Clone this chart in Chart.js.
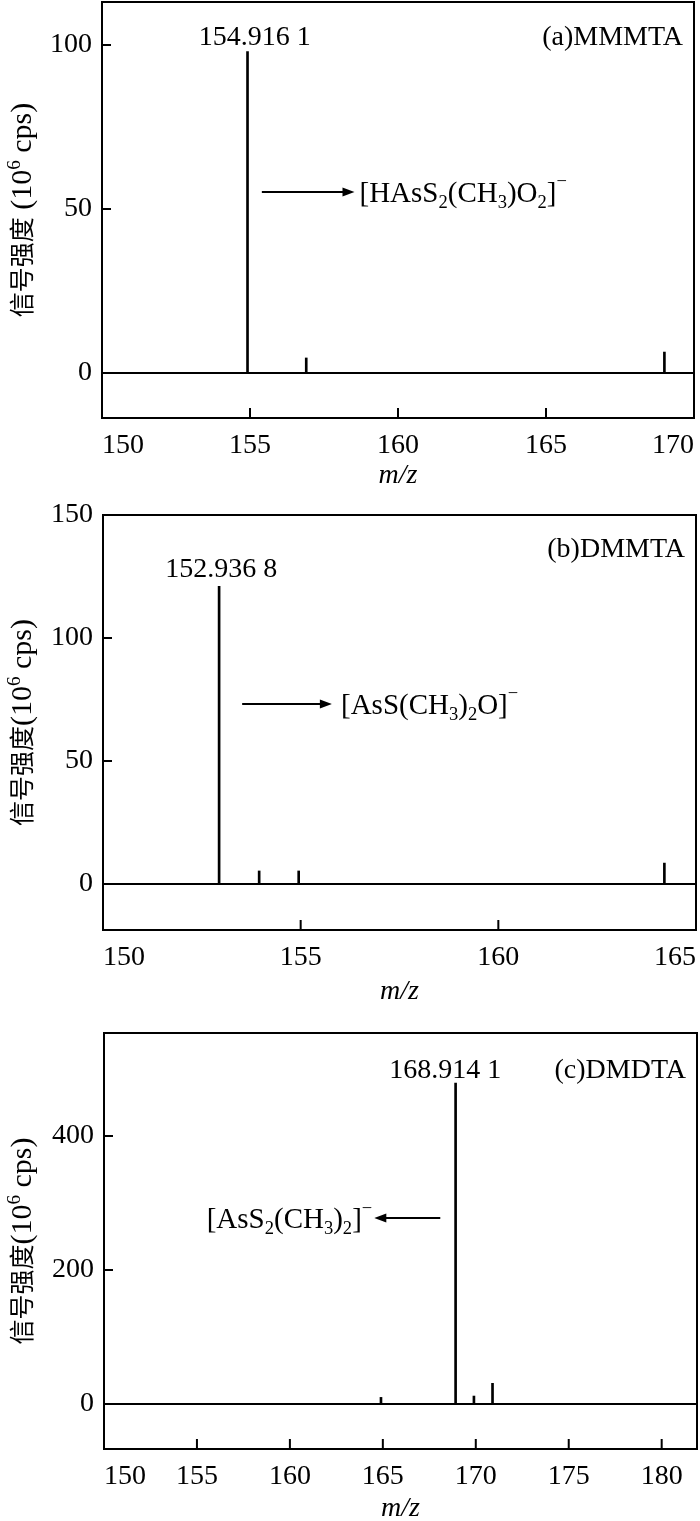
<!DOCTYPE html>
<html>
<head>
<meta charset="utf-8">
<title>MS spectra</title>
<script src="https://cdn.jsdelivr.net/npm/chart.js"></script>
<style>
  body { margin: 0; background: #fff; }
  canvas { position: absolute; left: 0; }
</style>
</head>
<body>
<canvas id="chartA" width="700" height="500" style="top:0"></canvas>
<canvas id="chartB" width="700" height="510" style="top:500px"></canvas>
<canvas id="chartC" width="700" height="511" style="top:1010px"></canvas>

<script>
// (a) MMMTA
const mzA = [154.9161, 156.9, 169.0];
const intA = [98, 4.6, 6.4];
const xTicksA = [150, 155, 160, 165, 170];
const yTicksA = [0, 50, 100];

// (b) DMMTA
const mzB = [152.9368, 153.95, 154.95, 164.2];
const intB = [121, 5.3, 5.3, 8.5];
const xTicksB = [150, 155, 160, 165];
const yTicksB = [0, 50, 100, 150];

// (c) DMDTA
const mzC = [164.9, 168.9141, 169.9, 170.9];
const intC = [10, 479, 12, 31];
const xTicksC = [150, 155, 160, 165, 170, 175, 180];
const yTicksC = [0, 200, 400];

const FONT = '"Liberation Serif", "Times New Roman", serif';
const CJK = '"Noto Sans CJK SC", sans-serif';

// draw text made of pieces: [text, 'sub'|'sup'|'supm'|'', 'cjk'?]
function drawRich(ctx, segs, x, y, size, align) {
  const parts = segs.map(([t, k, fam]) => {
    let font;
    if (fam === 'cjk') font = Math.round(size * 0.82) + 'px ' + CJK;
    else font = (k ? size * 0.64 : size) + 'px ' + FONT;
    ctx.font = font;
    return { t, k, font, w: ctx.measureText(t).width };
  });
  const total = parts.reduce((s, p) => s + p.w, 0);
  let cx = align === 'right' ? x - total : align === 'center' ? x - total / 2 : x;
  ctx.textAlign = 'left';
  ctx.textBaseline = 'alphabetic';
  parts.forEach(p => {
    let dy = 0;
    if (p.k === 'sub') dy = size * 0.2;
    if (p.k === 'sup') dy = -size * 0.36;
    if (p.k === 'supm') dy = -size * 0.5;
    ctx.font = p.font;
    ctx.fillText(p.t, cx, y + dy);
    cx += p.w;
  });
}

function arrow(ctx, x1, x2, y) {
  const d = Math.sign(x2 - x1);
  ctx.lineWidth = 2;
  ctx.beginPath();
  ctx.moveTo(x1, y);
  ctx.lineTo(x2 - d * 8, y);
  ctx.stroke();
  ctx.beginPath();
  ctx.moveTo(x2, y);
  ctx.lineTo(x2 - d * 12, y - 4.5);
  ctx.lineTo(x2 - d * 12, y + 4.5);
  ctx.closePath();
  ctx.fill();
}

function noPad(s) {
  s.paddingTop = 0;
  s.paddingBottom = 0;
  s.paddingLeft = 0;
  s.paddingRight = 0;
}

function framePlugin(cfg) {
  return {
    id: 'frame',
    afterDatasetsDraw(chart) {
      const { ctx, chartArea: a, scales: { x, y } } = chart;
      ctx.save();
      ctx.strokeStyle = '#000';
      ctx.fillStyle = '#000';
      ctx.lineWidth = 2;

      // zero line
      const y0 = y.getPixelForValue(0);
      ctx.beginPath();
      ctx.moveTo(a.left, y0);
      ctx.lineTo(a.right, y0);
      ctx.stroke();

      // box
      ctx.strokeRect(a.left, a.top, a.right - a.left, a.bottom - a.top);

      // inward ticks
      ctx.beginPath();
      cfg.xTicks.forEach(v => {
        if (v <= cfg.xMin || v >= cfg.xMax) return;
        const px = x.getPixelForValue(v);
        ctx.moveTo(px, a.bottom);
        ctx.lineTo(px, a.bottom - 10);
      });
      cfg.yTicks.forEach(v => {
        if (v >= cfg.yMax) return;
        const py = y.getPixelForValue(v);
        ctx.moveTo(a.left, py);
        ctx.lineTo(a.left + 9, py);
      });
      ctx.stroke();

      // peak label
      ctx.font = '28px ' + FONT;
      ctx.textAlign = 'center';
      ctx.textBaseline = 'alphabetic';
      ctx.fillText(cfg.peakLabel, x.getPixelForValue(cfg.peakLabelX), y.getPixelForValue(cfg.peakLabelY));

      // panel tag
      ctx.textAlign = 'right';
      ctx.fillText(cfg.tag, a.right - 11, a.top + cfg.tagDy);

      // arrow + formula
      const ay = y.getPixelForValue(cfg.arrowY);
      const ax1 = x.getPixelForValue(cfg.arrowFrom);
      const ax2 = x.getPixelForValue(cfg.arrowTo);
      arrow(ctx, ax1, ax2, ay);
      drawRich(ctx, cfg.formula, x.getPixelForValue(cfg.formulaX), ay + 10, 29, cfg.formulaAlign);

      // y title, rotated
      ctx.translate(31, (a.top + a.bottom) / 2);
      ctx.rotate(-Math.PI / 2);
      drawRich(ctx, cfg.yTitle, 0, 0, 30, 'center');
      ctx.restore();
    }
  };
}

function makePanel(id, cfg) {
  const points = cfg.mz.map((m, i) => ({ x: m, y: cfg.val[i] }));
  new Chart(document.getElementById(id), {
    type: 'bar',
    data: {
      datasets: [{
        data: points,
        backgroundColor: '#000',
        borderWidth: 0,
        barThickness: 2
      }]
    },
    options: {
      responsive: false,
      animation: false,
      layout: { padding: { top: cfg.padTop, right: cfg.padRight, left: 0, bottom: 0 } },
      plugins: { legend: { display: false }, tooltip: { enabled: false } },
      scales: {
        x: {
          type: 'linear',
          min: cfg.xMin,
          max: cfg.xMax,
          offset: false,
          grid: { display: false, drawTicks: false },
          border: { display: false },
          afterBuildTicks: s => {
            const t = cfg.xTicks.map(v => ({ value: v }));
            if (cfg.xTicks[cfg.xTicks.length - 1] < cfg.xMax) t.push({ value: cfg.xMax });
            s.ticks = t;
          },
          afterFit: s => { s.height = cfg.xH; noPad(s); },
          ticks: {
            autoSkip: false,
            maxRotation: 0,
            minRotation: 0,
            align: 'inner',
            padding: 11,
            color: '#000',
            font: { family: FONT, size: 28, lineHeight: 1.2 },
            callback: v => cfg.xTicks.includes(v) ? String(v) : ''
          },
          title: {
            display: true,
            text: 'm/z',
            color: '#000',
            font: { family: FONT, size: 28, style: 'italic', lineHeight: 0.8 },
            padding: { top: 0, bottom: cfg.titlePad }
          }
        },
        y: {
          min: cfg.yMin,
          max: cfg.yMax,
          grid: { display: false, drawTicks: false },
          border: { display: false },
          afterBuildTicks: s => { s.ticks = cfg.yTicks.map(v => ({ value: v })); },
          afterFit: s => { s.width = cfg.yW; noPad(s); },
          ticks: {
            padding: 10,
            color: '#000',
            font: { family: FONT, size: 28, lineHeight: 1.2 }
          }
        }
      }
    },
    plugins: [framePlugin(cfg)]
  });
}

makePanel('chartA', {
  mz: mzA, val: intA, xTicks: xTicksA, yTicks: yTicksA,
  xMin: 150, xMax: 170, yMin: -13.7, yMax: 113.1,
  padTop: 2, padRight: 6, yW: 102, xH: 82, titlePad: 13,
  peakLabel: '154.916 1', peakLabelX: 155.16, peakLabelY: 100,
  tag: '(a)MMMTA', tagDy: 43,
  arrowFrom: 155.4, arrowTo: 158.53, arrowY: 55.2,
  formulaX: 158.7, formulaAlign: 'left',
  formula: [['[HAsS'], ['2', 'sub'], ['(CH'], ['3', 'sub'], [')O'], ['2', 'sub'], [']'], ['\u2212', 'supm']],
  yTitle: [['信号强度', '', 'cjk'], [' (10'], ['6', 'sup'], [' cps)']]
});

makePanel('chartB', {
  mz: mzB, val: intB, xTicks: xTicksB, yTicks: yTicksB,
  xMin: 150, xMax: 165, yMin: -18.7, yMax: 150,
  padTop: 15, padRight: 4, yW: 103, xH: 80, titlePad: 7.5,
  peakLabel: '152.936 8', peakLabelX: 152.99, peakLabelY: 124.8,
  tag: '(b)DMMTA', tagDy: 42,
  arrowFrom: 153.52, arrowTo: 155.79, arrowY: 73.2,
  formulaX: 156.02, formulaAlign: 'left',
  formula: [['[AsS(CH'], ['3', 'sub'], [')'], ['2', 'sub'], ['O]'], ['\u2212', 'supm']],
  yTitle: [['信号强度', '', 'cjk'], ['(10'], ['6', 'sup'], [' cps)']]
});

makePanel('chartC', {
  mz: mzC, val: intC, xTicks: xTicksC, yTicks: yTicksC,
  xMin: 150, xMax: 181.9, yMin: -67, yMax: 553.7,
  padTop: 23, padRight: 3, yW: 104, xH: 72, titlePad: 1.3,
  peakLabel: '168.914 1', peakLabelX: 168.36, peakLabelY: 486.6,
  tag: '(c)DMDTA', tagDy: 45,
  arrowFrom: 168.09, arrowTo: 164.54, arrowY: 277.6,
  formulaX: 164.43, formulaAlign: 'right',
  formula: [['[AsS'], ['2', 'sub'], ['(CH'], ['3', 'sub'], [')'], ['2', 'sub'], [']'], ['\u2212', 'supm']],
  yTitle: [['信号强度', '', 'cjk'], ['(10'], ['6', 'sup'], [' cps)']]
});
</script>
</body>
</html>
